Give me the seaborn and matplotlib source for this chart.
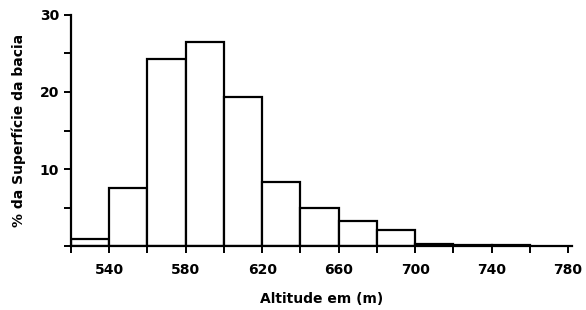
import numpy as np
import pandas as pd
import seaborn as sns
import matplotlib.pyplot as plt
from matplotlib.ticker import MultipleLocator

# altitude classes (m) and % of basin surface
bin_edges = [520, 540, 560, 580, 600, 620, 640, 660, 680, 700, 720, 740, 760]
pct_area = [0.9, 7.5, 24.3, 26.5, 19.3, 8.3, 5.0, 3.2, 2.1, 0.3, 0.2, 0.15]
x_ticks = [540, 580, 620, 660, 700, 740, 780]
y_ticks = [10, 20, 30]

mids = [(a + b) / 2 for a, b in zip(bin_edges[:-1], bin_edges[1:])]
df = pd.DataFrame({"alt": mids, "pct": pct_area})

sns.set_style("ticks")
plt.rcParams["font.family"] = ["DejaVu Sans"]
plt.rcParams["text.color"] = "black"
plt.rcParams["xtick.color"] = "black"
plt.rcParams["ytick.color"] = "black"
plt.rcParams["axes.labelcolor"] = "black"
plt.rcParams["axes.edgecolor"] = "black"

fig = plt.figure(figsize=(5.86, 3.10), dpi=100)
ax = fig.add_axes([0.121, 0.206, 0.855, 0.746])

sns.histplot(data=df, x="alt", weights="pct", bins=bin_edges, ax=ax,
             color="white", edgecolor="black", linewidth=1.6, alpha=1)

ax.set_xlim(520, 782)
ax.set_ylim(0, 30)
ax.set_xticks(x_ticks)
ax.xaxis.set_minor_locator(MultipleLocator(20))
ax.set_yticks(y_ticks)
ax.yaxis.set_minor_locator(MultipleLocator(5))
ax.tick_params(which="both", width=1.4, color="black")
ax.tick_params(which="major", length=5, labelsize=10)
ax.tick_params(which="minor", length=5)
ax.tick_params(axis="x", pad=7)
for lbl in ax.get_xticklabels() + ax.get_yticklabels():
    lbl.set_fontweight("bold")

for s in ["top", "right"]:
    ax.spines[s].set_visible(False)
for s in ["left", "bottom"]:
    ax.spines[s].set_linewidth(1.6)

ax.set_xlabel("Altitude em (m)", fontsize=10, fontweight="bold", labelpad=11)
ax.set_ylabel("% da Superfície da bacia", fontsize=10, fontweight="bold", labelpad=10)

fig.savefig("out.png", dpi=100)
